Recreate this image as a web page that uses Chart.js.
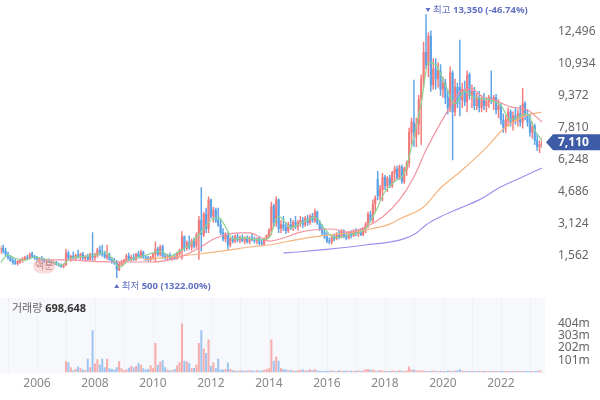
<!DOCTYPE html>
<html><head><meta charset="utf-8">
<script src="https://cdn.jsdelivr.net/npm/chart.js@4.4.0/dist/chart.umd.min.js"></script>
<style>
html,body{margin:0;padding:0;background:#fff;}
#wrap{position:relative;width:600px;height:400px;overflow:hidden;background:#fff;}
#c1{position:absolute;left:0;top:0;}
#c2{position:absolute;left:0;top:296px;}
</style></head><body>
<div id="wrap">
<canvas id="c1" width="600" height="296"></canvas>
<canvas id="c2" width="600" height="104"></canvas>
</div>
<script>
// ---------- data ----------
const firstYear = 2004, firstMonth = 10, monthCount = 225;   // Oct 2004 .. Jun 2023 (monthly candles)
const months = [];
for (let k = 0; k < monthCount; k++) {
  const m = firstMonth - 1 + k;
  months.push((firstYear + Math.floor(m / 12)) + '-' + String(m % 12 + 1).padStart(2, '0'));
}

const open = [
 1750,1950,1800,
 1650,1500,1350,1250,1200,1300,1350,1420,1480,1450,1650,1550,
 1450,1400,1450,1380,1300,1350,1280,1220,1250,1150,1100,1050,
 1120,1700,1450,1550,1450,1600,1500,1650,1450,1550,1400,1650,
 1500,1600,1850,1700,1650,1500,1600,1400,1300,1250,900,1150,
 1250,1350,1550,1400,1500,1400,1650,1500,1750,1500,1450,1400,
 1500,1650,1900,1650,2000,1550,1500,1600,1450,1550,1450,1700,
 1850,2500,1950,2200,2000,2300,2050,2600,3300,2600,3600,2900,
 4300,3500,3800,3300,3100,2700,2400,2600,2100,2400,2300,2500,
 2350,2450,2300,2400,2250,2450,2350,2300,2400,2200,2150,2400,
 2550,2800,4000,3200,4300,2900,3100,2950,2800,3100,2950,3200,
 3000,3200,3300,3100,3400,3200,3500,3300,3700,3200,2900,2700,
 2500,2300,2250,2500,2400,2600,2500,2750,2550,2450,2650,2550,
 2750,2650,2800,2600,2900,3100,3600,3300,4100,5300,4500,4800,
 5400,5000,5350,5000,5600,5800,5400,5900,5200,5800,6100,7600,
 8100,7400,8000,9200,10200,11500,10900,12300,9900,10700,10200,10600,
 9700,10000,9300,8800,10500,8600,9800,9800,9200,9700,9100,10400,
 9400,9600,8900,9300,8800,9200,8900,9100,9300,9100,9300,8700,
 8900,8200,7800,8200,8600,8100,8400,8200,8500,8100,9000,8400,
 8100,7600,7900,7200,6900,7000
];
const high = [
 2050,2100,1950,
 1750,1600,1450,1400,1350,1420,1480,1550,1600,1700,1750,1600,
 1550,1500,1550,1450,1400,1420,1350,1300,1300,1220,1180,1150,
 1900,1800,1600,1750,1650,1850,1700,1750,1600,1650,1700,2700,
 1700,1950,2050,2100,1800,2100,1700,1500,1450,1350,1250,1350,
 1400,1650,1700,1600,1650,1700,1800,1850,1800,1600,1550,1550,
 1700,2250,2000,2100,2100,1700,1650,1700,1600,1650,1750,1900,
 2750,2550,2300,2550,2400,2450,2700,3500,4900,3700,3900,4450,
 4350,3950,3900,3900,3400,2900,2700,2700,2500,2550,2600,2650,
 2550,2600,2500,2550,2500,2650,2500,2450,2500,2350,2450,2600,
 2900,4200,4100,4450,4350,3300,3500,3200,3200,3400,3300,3500,
 3300,3500,3450,3500,3550,3600,3650,3850,3750,3300,3100,2900,
 2700,2450,2600,2650,2700,2800,2850,2850,2700,2750,2800,2850,
 2900,2850,2900,2950,3200,3700,3750,4300,4500,5700,5000,5600,
 5500,5450,5500,5700,5950,5950,6000,6000,5900,6200,7800,8300,
 10150,8300,9400,10400,12000,13350,12450,12550,11200,11200,11000,10900,
 10300,10200,9700,10800,10600,10200,10000,12100,10000,10100,10600,10500,
 9900,9800,9500,9600,9400,9500,9300,9400,10600,9400,9450,9200,
 9000,8500,8400,8800,8700,8600,8800,8700,8900,9750,9100,8700,
 8500,8100,8000,7500,7200,7300
];
const low = [
 1650,1700,1550,
 1400,1300,1150,1150,1120,1200,1250,1350,1380,1420,1480,1400,
 1350,1300,1350,1250,1200,1250,1180,1150,1120,1050,1000,980,
 1100,1400,1300,1400,1350,1450,1350,1400,1300,1350,1350,1350,
 1350,1500,1600,1550,1450,1400,1350,1200,1150,500,850,1050,
 1150,1250,1350,1300,1350,1350,1450,1450,1450,1350,1300,1300,
 1400,1300,1550,1550,1450,1400,1350,1400,1350,1400,1400,1600,
 1400,1800,1850,1900,1850,1950,1950,1400,1800,2500,2700,2700,
 3400,3200,3200,3000,2600,2300,2250,1900,2000,2200,2200,2250,
 2200,2250,2150,2200,2150,2300,2200,2150,2100,2050,2100,2300,
 2450,2600,3000,3000,2700,2700,2800,2650,2700,2850,2800,2900,
 2800,3000,2950,3000,3050,3100,3200,3200,3100,2800,2600,2400,
 2200,2150,2150,2300,2350,2400,2450,2450,2350,2400,2450,2500,
 2550,2500,2550,2550,2700,2950,3200,3200,3700,4300,4300,4250,
 4800,4700,4900,4900,5200,5300,5300,5100,5100,5500,5900,7000,
 6900,6900,7500,7000,9800,10700,10300,9600,9700,9700,9800,9400,
 9300,9000,8500,8600,6250,8400,8800,8400,8800,8900,8600,9200,
 8800,8700,8700,8600,8600,8700,8600,8800,9000,8700,8500,8300,
 8000,7600,7600,7900,7900,7700,8000,7900,7900,7800,8200,7900,
 7400,7300,7000,6700,6600,6850
];
const close = [
 1950,1800,1650,
 1500,1350,1250,1200,1300,1350,1420,1480,1450,1650,1550,1450,
 1400,1450,1380,1300,1350,1280,1220,1250,1150,1100,1050,1120,
 1700,1450,1550,1450,1600,1500,1650,1450,1550,1400,1650,1500,
 1600,1850,1700,1650,1500,1600,1400,1300,1250,900,1150,1250,
 1350,1550,1400,1500,1400,1650,1500,1750,1500,1450,1400,1500,
 1650,1900,1650,2000,1550,1500,1600,1450,1550,1450,1700,1850,
 2500,1950,2200,2000,2300,2050,2600,3300,2600,3600,2900,4300,
 3500,3800,3300,3100,2700,2400,2600,2100,2400,2300,2500,2350,
 2450,2300,2400,2250,2450,2350,2300,2400,2200,2150,2400,2550,
 2800,4000,3200,4300,2900,3100,2950,2800,3100,2950,3200,3000,
 3200,3300,3100,3400,3200,3500,3300,3700,3200,2900,2700,2500,
 2300,2250,2500,2400,2600,2500,2750,2550,2450,2650,2550,2750,
 2650,2800,2600,2900,3100,3600,3300,4100,4400,4500,4800,5400,
 5000,5350,5000,5600,5800,5400,5900,5200,5800,6100,7600,8100,
 7400,8000,9200,10200,11500,10900,12300,9900,10700,10200,10600,9700,
 10000,9300,8800,10500,8600,9800,9000,9200,9700,9100,10400,9400,
 9600,8900,9300,8800,9200,8900,9100,9300,9200,9300,8700,8900,
 8200,7800,8200,8600,8100,8400,8200,8500,8100,9000,8400,8100,
 7600,7900,7200,6900,7000,7110
];
// volume (millions), none shown before 2007
const volume = [
 null,null,null, null,null,null,null,null,null,null,null,null,null,null,null,
 null,null,null,null,null,null,null,null,null,null,null,null,
 88,80,40,15,25,45,30,20,15,110,40,345,
 70,105,60,110,40,110,30,25,20,40,88,30,
 15,20,35,52,40,50,75,60,30,20,25,55,
 30,240,60,85,96,40,20,15,15,25,55,80,
 401,92,88,74,30,33,60,240,345,193,157,269,
 50,78,30,109,20,20,25,78,25,15,12,10,
 12,14,10,12,15,12,10,14,12,10,18,25,
 30,269,92,126,92,30,25,20,15,18,12,10,
 14,18,20,12,15,22,14,25,12,10,8,10,
 8,10,12,8,9,14,10,8,12,9,10,8,
 10,12,8,14,22,25,18,20,12,10,14,12,
 8,10,9,12,10,8,14,10,9,15,46,20,
 18,12,14,10,12,9,8,10,12,8,9,10,
 8,9,12,10,8,10,14,22,12,9,8,10,
 8,9,7,8,10,8,9,7,10,8,9,7,
 8,7,9,8,7,9,8,10,7,9,8,7,
 8,7,9,8,15,6
];
// moving-average lines at sample months
const maShort = [['2004-10',1250],['2005-01',1600],['2005-04',1450],['2005-08',1350],['2005-12',1500],['2006-06',1350],['2006-11',1120],['2007-03',1450],['2007-09',1550],['2008-01',1600],['2008-05',1750],['2008-09',1300],['2008-11',1000],['2009-03',1350],['2009-10',1600],['2010-04',1800],['2010-08',1550],['2010-12',1800],['2011-04',2100],['2011-08',2600],['2012-01',3300],['2012-04',3450],['2012-07',3000],['2012-10',2400],['2013-03',2450],['2013-09',2350],['2014-01',2450],['2014-05',3500],['2014-10',2950],['2015-02',3150],['2015-08',3450],['2015-12',2900],['2016-04',2450],['2016-11',2600],['2017-05',2900],['2017-09',3700],['2018-01',4700],['2018-05',5200],['2018-09',5600],['2018-12',6900],['2019-04',9000],['2019-07',11000],['2019-10',10900],['2020-02',9900],['2020-06',9000],['2020-10',9600],['2021-02',9300],['2021-08',9200],['2022-01',8900],['2022-05',8200],['2022-09',8400],['2022-12',8500],['2023-03',7700],['2023-06',7200]];
const maMid = [['2006-05',1370],['2007-01',1370],['2008-03',1290],['2009-12',1270],['2010-12',1510],['2011-08',1950],['2012-03',2440],['2013-01',2690],['2013-05',2690],['2013-10',2440],['2014-01',2290],['2014-07',2440],['2015-02',2730],['2016-03',2880],['2016-10',2730],['2017-05',2980],['2017-12',3470],['2018-07',4300],['2019-01',5420],['2019-06',6740],['2020-04',8840],['2020-09',9660],['2021-01',9710],['2021-06',9270],['2021-10',9180],['2022-05',8840],['2022-12',8690],['2023-06',8100]];
const maLong = [['2009-09',1370],['2010-08',1510],['2011-08',1660],['2012-09',1860],['2013-05',2000],['2014-01',2100],['2015-02',2390],['2016-02',2590],['2016-10',2690],['2017-07',2880],['2018-03',3120],['2018-07',3370],['2019-05',3950],['2019-12',4880],['2020-08',5660],['2021-06',6740],['2022-03',7860],['2022-12',8440],['2023-06',8590]];
const maXLong = [['2014-07',1710],['2015-02',1770],['2016-02',1900],['2017-05',2100],['2018-07',2340],['2019-02',2690],['2019-06',3080],['2019-12',3480],['2020-08',3900],['2021-04',4300],['2022-01',4940],['2022-09',5370],['2023-06',5860]];

const priceTicks = [1562, 3124, 4686, 6248, 7810, 9372, 10934, 12496];
const volumeTicks = [101, 202, 303, 404];
const currentVolume = 698648;
const splitEvent = {month: '2006-04', label: '액분'};

// ---------- drawing ----------
const FONT = "'Noto Sans', 'Noto Sans CJK KR', sans-serif";
const UP = '#f37b7b', DOWN = '#5ba3e8', VUP = '#f5adad', VDOWN = '#9fc5ef';
const isUp = close.map((c, i) => c >= open[i]);
const candleColors = isUp.map(u => u ? UP : DOWN);
const volColors = isUp.map(u => u ? VUP : VDOWN);
const wickData = low.map((l, i) => [l, high[i]]);
const bodyData = open.map((o, i) => [Math.min(o, close[i]), Math.max(o, close[i])]);
const pts = a => a.map(([m, v]) => ({x: m, y: v}));
const fmt = v => v.toLocaleString('en-US');
const lineDs = (d, c) => ({type: 'line', data: pts(d), borderColor: c, borderWidth: 1.2, pointRadius: 0,
  cubicInterpolationMode: 'monotone', spanGaps: true, order: 0});

const hiIdx = high.indexOf(Math.max(...high));
const loIdx = low.indexOf(Math.min(...low));
const last = close[close.length - 1];

const annot = {
  id: 'annot',
  afterDatasetsDraw(chart) {
    const {ctx, scales: {x, y}} = chart;
    ctx.save();
    const markCol = '#6170c2';
    const F = 9.5;
    // high marker
    let px = x.getPixelForValue(hiIdx) + 2, py = 10;
    ctx.fillStyle = markCol;
    ctx.beginPath(); ctx.moveTo(px - 2.5, py - 2); ctx.lineTo(px + 2.5, py - 2); ctx.lineTo(px, py + 2); ctx.fill();
    ctx.textBaseline = 'middle'; ctx.textAlign = 'left';
    ctx.font = F + 'px ' + FONT;
    let t1 = '최고 ';
    ctx.fillText(t1, px + 5, py);
    let w = ctx.measureText(t1).width;
    ctx.font = 'bold ' + F + 'px ' + FONT;
    ctx.fillText(fmt(high[hiIdx]) + ' (' + ((last - high[hiIdx]) / high[hiIdx] * 100).toFixed(2) + '%)', px + 5 + w, py);
    // low marker
    px = x.getPixelForValue(loIdx); py = 286;
    ctx.beginPath(); ctx.moveTo(px - 2.5, py + 2); ctx.lineTo(px + 2.5, py + 2); ctx.lineTo(px, py - 2); ctx.fill();
    ctx.font = F + 'px ' + FONT;
    t1 = '최저 ';
    ctx.fillText(t1, px + 5, py);
    w = ctx.measureText(t1).width;
    ctx.font = 'bold ' + F + 'px ' + FONT;
    ctx.fillText(fmt(low[loIdx]) + ' (' + ((last - low[loIdx]) / low[loIdx] * 100).toFixed(2) + '%)', px + 5 + w, py);
    // split badge
    const si = months.indexOf(splitEvent.month);
    const sx = x.getPixelForValue(si), sy = y.getPixelForValue(low[si]) + 3;
    ctx.fillStyle = 'rgba(240,170,170,0.4)';
    ctx.beginPath(); ctx.roundRect(sx - 11, sy - 7, 22, 15, 7); ctx.fill();
    ctx.fillStyle = '#c98a8a'; ctx.textAlign = 'center';
    ctx.font = '10px ' + FONT;
    ctx.fillText(splitEvent.label, sx, sy + 0.5);
    // last price flag
    const fy = y.getPixelForValue(last);
    const fx = chart.chartArea.right + 4;
    ctx.fillStyle = '#3d5ba6';
    ctx.beginPath(); ctx.moveTo(fx, fy); ctx.lineTo(fx + 7, fy - 8); ctx.lineTo(600, fy - 8); ctx.lineTo(600, fy + 8); ctx.lineTo(fx + 7, fy + 8); ctx.closePath(); ctx.fill();
    ctx.fillStyle = '#fff'; ctx.textAlign = 'left';
    ctx.font = 'bold 12px ' + FONT;
    ctx.fillText(fmt(last), fx + 12, fy + 0.5);
    ctx.restore();
  }
};

const volPanel = {
  id: 'volPanel',
  beforeDatasetsDraw(chart) {
    const {ctx, chartArea: a, scales: {x}} = chart;
    ctx.save();
    ctx.fillStyle = '#f7f8fb';
    ctx.fillRect(0, a.top - 2, a.right + 3, a.bottom - a.top + 3);
    ctx.strokeStyle = '#eff1f6'; ctx.lineWidth = 1;
    months.forEach((m, i) => { if (m.endsWith('-01')) { const px = Math.round(x.getPixelForValue(i)) + 0.5; ctx.beginPath(); ctx.moveTo(px, a.top - 2); ctx.lineTo(px, a.bottom + 1); ctx.stroke(); } });
    ctx.restore();
  },
  afterDraw(chart) {
    const {ctx} = chart;
    ctx.save();
    ctx.textBaseline = 'middle'; ctx.textAlign = 'left';
    ctx.font = '11px ' + FONT; ctx.fillStyle = '#666';
    const t = '거래량 ';
    ctx.fillText(t, 12, 13);
    const w = ctx.measureText(t).width;
    ctx.font = 'bold 11px ' + FONT; ctx.fillStyle = '#333';
    ctx.fillText(fmt(currentVolume), 12 + w, 13);
    ctx.restore();
  }
};

Chart.defaults.font.family = FONT;

new Chart(document.getElementById('c1'), {
  type: 'bar',
  data: {labels: months, datasets: [
    lineDs(maShort, '#8bd592'),
    lineDs(maMid, '#f2939f'),
    lineDs(maLong, '#f6b47e'),
    lineDs(maXLong, '#9f8ff0'),
    {data: bodyData, backgroundColor: candleColors, barThickness: 1.5, grouped: false, order: 2},
    {data: wickData, backgroundColor: candleColors, barThickness: 0.8, grouped: false, order: 3}
  ]},
  options: {
    responsive: false, animation: false, maintainAspectRatio: false,
    layout: {padding: {left: 0.75, top: 0, right: 0, bottom: 8}},
    plugins: {legend: {display: false}, tooltip: {enabled: false}},
    scales: {
      x: {type: 'category', offset: false, display: false},
      y: {position: 'right', min: 0, max: 14058,
        grid: {display: false, drawTicks: false}, border: {display: false},
        afterBuildTicks: s => { s.ticks = priceTicks.map(v => ({value: v})); },
        afterFit: s => { s.width = 58; s.paddingTop = 0; s.paddingBottom = 0; },
        ticks: {padding: 16, color: '#666', font: {size: 12}, callback: v => fmt(v)}
      }
    }
  },
  plugins: [annot]
});

new Chart(document.getElementById('c2'), {
  type: 'bar',
  data: {labels: months, datasets: [
    {data: volume, backgroundColor: volColors, barThickness: 1.4}
  ]},
  options: {
    responsive: false, animation: false, maintainAspectRatio: false,
    layout: {padding: {left: 0.75, top: 4, right: 0, bottom: 0}},
    plugins: {legend: {display: false}, tooltip: {enabled: false}},
    scales: {
      x: {type: 'category', offset: false,
        grid: {display: false, drawTicks: false}, border: {display: false},
        afterFit: s => { s.height = 27.7; },
        ticks: {autoSkip: false, maxRotation: 0, padding: 4, color: '#888', font: {size: 12},
          callback: (v) => { const l = months[v]; return (l.endsWith('-01') && (+l.slice(0, 4)) % 2 === 0) ? l.slice(0, 4) : null; }}
      },
      y: {position: 'right', min: 0, max: 598.6,
        grid: {display: false, drawTicks: false}, border: {display: false},
        afterBuildTicks: s => { s.ticks = volumeTicks.map(v => ({value: v})); },
        afterFit: s => { s.width = 58; s.paddingTop = 0; s.paddingBottom = 0; },
        ticks: {padding: 16, color: '#666', font: {size: 12}, callback: v => v + 'm'}
      }
    }
  },
  plugins: [volPanel]
});
</script>
</body></html>
